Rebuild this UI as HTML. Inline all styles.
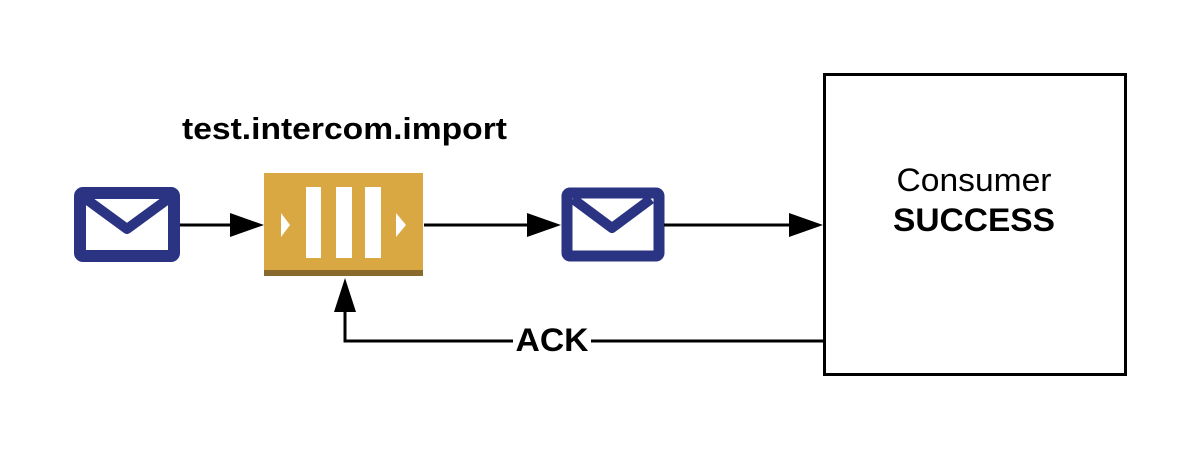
<!DOCTYPE html>
<html><head><meta charset="utf-8"><style>html,body{margin:0;padding:0;background:#fff}</style></head>
<body>
<svg width="1200" height="450" viewBox="0 0 1200 450" xmlns="http://www.w3.org/2000/svg" font-family="Liberation Sans, Arial, sans-serif">
<rect width="1200" height="450" fill="#fff"/>
<text x="182" y="139" font-size="31" font-weight="bold" textLength="325" lengthAdjust="spacingAndGlyphs">test.intercom.import</text>
<!-- envelope 1 -->
<rect x="80" y="193" width="94" height="63" rx="3" fill="none" stroke="#2b3383" stroke-width="12"/>
<polyline points="86,199 127,229 168,199" fill="none" stroke="#2b3383" stroke-width="10" stroke-linejoin="round"/>
<!-- arrow 1 -->
<line x1="180" y1="225" x2="236" y2="225" stroke="#000" stroke-width="3"/>
<polygon points="264,225 230,213 230,237" fill="#000"/>
<!-- queue -->
<rect x="264" y="173" width="159" height="97" fill="#d9a842"/>
<rect x="264" y="270" width="159" height="6" fill="#8a6a2c"/>
<rect x="306" y="187" width="15" height="71" fill="#fff"/>
<rect x="336" y="187" width="16" height="71" fill="#fff"/>
<rect x="365" y="187" width="16" height="71" fill="#fff"/>
<polygon points="281,213 281,237 290,225" fill="#fff"/>
<polygon points="396,213 396,237 406,225" fill="#fff"/>
<!-- arrow 2 -->
<line x1="424" y1="225" x2="532" y2="225" stroke="#000" stroke-width="3"/>
<polygon points="561,225 527,213 527,237" fill="#000"/>
<!-- envelope 2 -->
<rect x="567" y="193" width="92" height="63" rx="3" fill="none" stroke="#2b3383" stroke-width="11"/>
<polyline points="573,199 612,228 651,199" fill="none" stroke="#2b3383" stroke-width="10" stroke-linejoin="round"/>
<!-- arrow 3 -->
<line x1="664" y1="225" x2="795" y2="225" stroke="#000" stroke-width="3"/>
<polygon points="823,225 789,213 789,237" fill="#000"/>
<!-- consumer box -->
<rect x="824.5" y="74.5" width="301" height="300" fill="none" stroke="#000" stroke-width="3"/>
<text x="974" y="191" font-size="32" text-anchor="middle" textLength="155" lengthAdjust="spacingAndGlyphs">Consumer</text>
<text x="974" y="231" font-size="32" font-weight="bold" text-anchor="middle" textLength="162" lengthAdjust="spacingAndGlyphs">SUCCESS</text>
<!-- ACK -->
<polyline points="823,341 345,341 345,308" fill="none" stroke="#000" stroke-width="3"/>
<polygon points="345,278 334,312 356,312" fill="#000"/>
<rect x="513" y="322" width="78" height="36" fill="#fff"/>
<text x="552" y="351" font-size="32" font-weight="bold" text-anchor="middle" textLength="73" lengthAdjust="spacingAndGlyphs">ACK</text>
</svg>
</body></html>
